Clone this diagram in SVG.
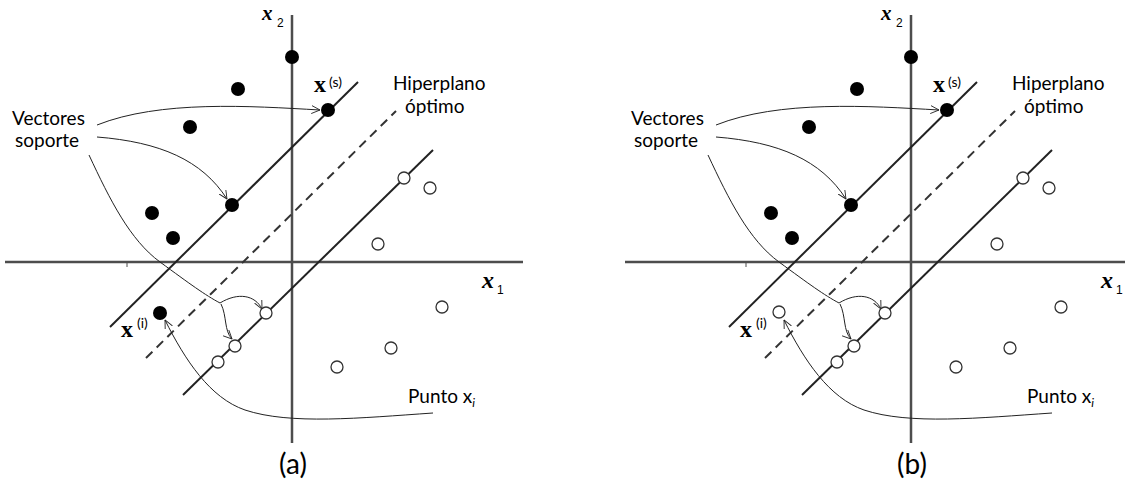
<svg xmlns="http://www.w3.org/2000/svg" width="1125" height="486" viewBox="0 0 1125 486">
<defs>
<style>
.axis{stroke:#4d4d4d;stroke-width:2.5;fill:none}
.line{stroke:#222;stroke-width:2;fill:none}
.dash{stroke:#333;stroke-width:2;fill:none;stroke-dasharray:9 6}
.con{stroke:#222;stroke-width:1;fill:none;marker-end:url(#ah)}
.fdot{fill:#000}
.hdot{fill:#fff;stroke:#333;stroke-width:1.3}
.lbl{font-family:Lato,"Open Sans",sans-serif;font-size:19px;fill:#000}
.cap{font-family:Lato,"Open Sans",sans-serif;font-size:28px;fill:#000}
.ax{font-family:"Liberation Serif",serif;font-style:italic;font-weight:bold;font-size:24px;fill:#000}
.ax2{font-family:"Liberation Serif",serif;font-style:italic;font-weight:bold;font-size:21px;fill:#000}
.sub{font-family:"Liberation Sans",sans-serif;font-size:12px;fill:#000}
.vx{font-family:"Liberation Serif",serif;font-weight:bold;font-size:24px;fill:#000}
.sup{font-family:Lato,"Open Sans",sans-serif;font-size:14px;fill:#000}
</style>
<marker id="ah" viewBox="0 0 10 10" refX="9.5" refY="5" markerWidth="9" markerHeight="9" markerUnits="userSpaceOnUse" orient="auto">
<path d="M0,0.5 L9.5,5 L0,9.5" fill="none" stroke="#222" stroke-width="1"/>
</marker>
</defs>
<rect width="1125" height="486" fill="#fff"/>

<g id="panel-a">
  <g id="axes-a">
    <line class="axis" x1="292" y1="15" x2="292" y2="443"/>
    <line class="axis" x1="5" y1="262" x2="523" y2="262"/>
    <line x1="127" y1="262" x2="127" y2="267" stroke="#4d4d4d" stroke-width="1"/>
    <text class="ax2" x="262" y="20">x</text><text class="sub" x="277" y="27">2</text>
    <text class="ax" x="482" y="288">x</text><text class="sub" x="497" y="294">1</text>
  </g>
  <g id="lines-a">
    <line class="line" x1="110" y1="327" x2="358" y2="82"/>
    <line class="dash" x1="146" y1="358" x2="396" y2="111"/>
    <line class="line" x1="183" y1="395" x2="433" y2="150"/>
  </g>
  <g id="connectors-a">
    <path class="con" d="M97,125 C160,100 250,106 320,110"/>
    <path class="con" d="M97,137 C160,142 202,160 227,199"/>
    <path d="M89,155 C110,200 130,240 160,262 S205,295 220,303" fill="none" stroke="#222" stroke-width="1"/>
    <path class="con" d="M220,303 C238,292 255,295 262,309"/>
    <path class="con" d="M221,304 C227,316 224,331 232,339"/>
    <path class="con" d="M433,413 C360,418 290,425 245,410 C210,398 185,360 165,320"/>
  </g>
  <g id="points-a">
    <circle class="fdot" cx="292" cy="57" r="7"/>
    <circle class="fdot" cx="238" cy="89" r="7"/>
    <circle class="fdot" cx="190" cy="127" r="7"/>
    <circle class="fdot" cx="328" cy="110" r="7"/>
    <circle class="fdot" cx="232" cy="205" r="7"/>
    <circle class="fdot" cx="152" cy="213" r="7"/>
    <circle class="fdot" cx="173" cy="238" r="7"/>
    <circle id="xi-a" class="fdot" cx="160" cy="313" r="7"/>
    <circle class="hdot" cx="404" cy="178" r="6"/>
    <circle class="hdot" cx="430" cy="188" r="6"/>
    <circle class="hdot" cx="378" cy="244" r="6"/>
    <circle class="hdot" cx="442" cy="307" r="6"/>
    <circle class="hdot" cx="266" cy="313" r="6"/>
    <circle class="hdot" cx="235" cy="346" r="6"/>
    <circle class="hdot" cx="218" cy="362" r="6"/>
    <circle class="hdot" cx="391" cy="348" r="6"/>
    <circle class="hdot" cx="337" cy="367" r="6"/>
  </g>
  <g id="labels-a">
    <text class="lbl" x="12" y="125">Vectores</text>
    <text class="lbl" x="15" y="147">soporte</text>
    <text class="lbl" x="393" y="90">Hiperplano</text>
    <text class="lbl" x="405" y="113">óptimo</text>
    <text class="vx" x="314" y="92">x</text><text class="sup" x="329" y="87">(s)</text>
    <text class="vx" x="121" y="337">x</text><text class="sup" x="137" y="328">(i)</text>
    <text class="lbl" x="408" y="403">Punto x<tspan font-style="italic" font-size="12" dy="4">i</tspan></text>
    <text class="cap" x="293" y="474" text-anchor="middle">(a)</text>
  </g>
</g>

<g id="panel-b" transform="translate(619,0)">
  <g id="axes-b">
    <line class="axis" x1="292" y1="15" x2="292" y2="443"/>
    <line class="axis" x1="6" y1="262" x2="506" y2="262"/>
    <line x1="127" y1="262" x2="127" y2="267" stroke="#4d4d4d" stroke-width="1"/>
    <text class="ax2" x="262" y="20">x</text><text class="sub" x="277" y="27">2</text>
    <text class="ax" x="482" y="288">x</text><text class="sub" x="497" y="294">1</text>
  </g>
  <g id="lines-b">
    <line class="line" x1="110" y1="327" x2="358" y2="82"/>
    <line class="dash" x1="146" y1="358" x2="396" y2="111"/>
    <line class="line" x1="183" y1="395" x2="433" y2="150"/>
  </g>
  <g id="connectors-b">
    <path class="con" d="M97,125 C160,100 250,106 320,110"/>
    <path class="con" d="M97,137 C160,142 202,160 227,199"/>
    <path d="M89,155 C110,200 130,240 160,262 S205,295 220,303" fill="none" stroke="#222" stroke-width="1"/>
    <path class="con" d="M220,303 C238,292 255,295 262,309"/>
    <path class="con" d="M221,304 C227,316 224,331 232,339"/>
    <path class="con" d="M433,413 C360,418 290,425 245,410 C210,398 185,360 165,320"/>
  </g>
  <g id="points-b">
    <circle class="fdot" cx="292" cy="57" r="7"/>
    <circle class="fdot" cx="238" cy="89" r="7"/>
    <circle class="fdot" cx="190" cy="127" r="7"/>
    <circle class="fdot" cx="328" cy="110" r="7"/>
    <circle class="fdot" cx="232" cy="205" r="7"/>
    <circle class="fdot" cx="152" cy="213" r="7"/>
    <circle class="fdot" cx="173" cy="238" r="7"/>
    <circle id="xi-b" class="hdot" cx="160" cy="312" r="6"/>
    <circle class="hdot" cx="404" cy="178" r="6"/>
    <circle class="hdot" cx="430" cy="188" r="6"/>
    <circle class="hdot" cx="378" cy="244" r="6"/>
    <circle class="hdot" cx="442" cy="307" r="6"/>
    <circle class="hdot" cx="266" cy="313" r="6"/>
    <circle class="hdot" cx="235" cy="346" r="6"/>
    <circle class="hdot" cx="218" cy="362" r="6"/>
    <circle class="hdot" cx="391" cy="348" r="6"/>
    <circle class="hdot" cx="337" cy="367" r="6"/>
  </g>
  <g id="labels-b">
    <text class="lbl" x="12" y="125">Vectores</text>
    <text class="lbl" x="15" y="147">soporte</text>
    <text class="lbl" x="393" y="90">Hiperplano</text>
    <text class="lbl" x="405" y="113">óptimo</text>
    <text class="vx" x="314" y="92">x</text><text class="sup" x="329" y="87">(s)</text>
    <text class="vx" x="121" y="337">x</text><text class="sup" x="137" y="328">(i)</text>
    <text class="lbl" x="408" y="403">Punto x<tspan font-style="italic" font-size="12" dy="4">i</tspan></text>
    <text class="cap" x="293" y="474" text-anchor="middle">(b)</text>
  </g>
</g>
</svg>
